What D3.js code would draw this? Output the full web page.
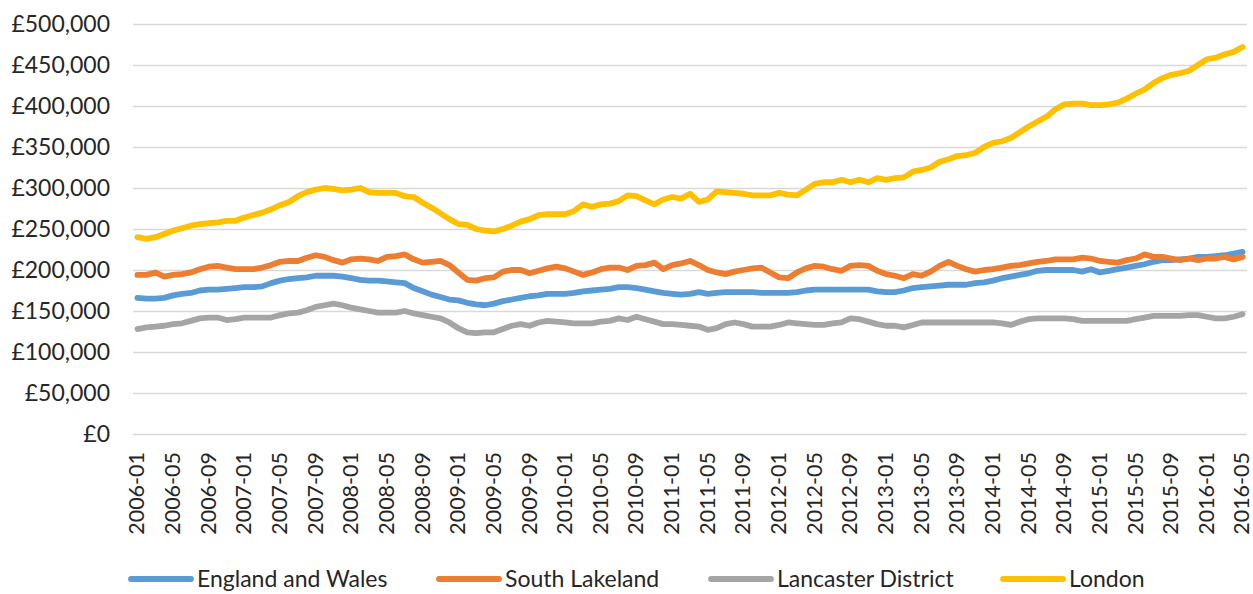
<!DOCTYPE html>
<html>
<head>
<meta charset="utf-8">
<script src="https://cdn.jsdelivr.net/npm/d3@7"></script>
<style>
  body { margin: 0; background: #fff; }
  svg { display: block; font-family: Lato, "Open Sans", sans-serif; }
  .grid line { stroke: #d9d9d9; stroke-width: 1.3; }
  .series { fill: none; stroke-width: 5.8; stroke-linejoin: round; stroke-linecap: round; }
  .tick text { fill: #262626; }
</style>
</head>
<body>
<script>
// monthly categories 2006-01 .. 2016-05
var months = d3.timeMonths(new Date(2006, 0, 1), new Date(2016, 5, 1)).map(d3.timeFormat("%Y-%m"));

// average price, thousands of pounds
var englandWales = [166,165,165,166,169,171,172,175,176,176,177,178,179,179,180,184,187,189,190,191,
  193,193,193,192,190,188,187,187,186,185,184,178,174,170,167,164,163,160,158,157,
  159,162,164,166,168,169,171,171,171,172,174,175,176,177,179,179,178,176,174,172,
  171,170,171,173,171,172,173,173,173,173,172,172,172,172,173,175,176,176,176,176,
  176,176,176,174,173,173,175,178,179,180,181,182,182,182,184,185,187,190,192,194,
  196,199,200,200,200,200,198,201,197,199,201,203,205,207,210,212,212,213,214,216,
  216,217,218,220,222];

var southLakeland = [194,194,197,192,194,195,197,201,204,205,203,201,201,201,203,206,210,211,211,215,
  218,216,212,209,213,214,213,211,216,217,219,213,209,210,211,206,197,188,187,190,
  191,198,200,200,196,199,202,204,202,198,194,197,201,203,203,200,205,206,209,201,
  206,208,211,206,200,197,195,198,200,202,203,197,191,190,197,202,205,204,201,199,
  205,206,205,199,195,193,190,195,193,198,205,210,205,201,198,200,201,203,205,206,
  208,210,211,213,213,213,215,214,211,210,209,212,214,219,216,216,214,212,214,212,
  214,214,216,213,216];

var lancaster = [128,130,131,132,134,135,138,141,142,142,139,140,142,142,142,142,145,147,148,151,
  155,157,159,157,154,152,150,148,148,148,150,147,145,143,141,136,129,124,123,124,
  124,128,132,134,132,136,138,137,136,135,135,135,137,138,141,139,143,140,137,134,
  134,133,132,131,127,129,134,136,134,131,131,131,133,136,135,134,133,133,135,136,
  141,140,137,134,132,132,130,133,136,136,136,136,136,136,136,136,136,135,133,137,
  140,141,141,141,141,140,138,138,138,138,138,138,140,142,144,144,144,144,145,145,
  143,141,141,143,146];

var london = [240,238,240,244,248,251,254,256,257,258,260,260,264,267,270,274,279,283,290,295,
  298,300,299,297,298,300,295,294,294,294,290,289,282,276,269,262,256,255,250,248,
  247,250,254,259,262,267,268,268,268,272,280,277,280,281,284,291,290,285,280,286,
  289,287,293,283,286,296,295,294,293,291,291,291,294,292,291,298,305,307,307,310,
  307,310,307,312,310,312,313,320,322,325,332,335,339,340,343,350,355,357,361,368,
  375,381,387,396,402,403,403,401,401,402,404,409,415,420,428,434,438,440,443,450,
  457,459,463,466,472];

var seriesNames = ["England and Wales", "South Lakeland", "Lancaster District", "London"];
var seriesColors = ["#5b9bd5", "#ed7d31", "#a5a5a5", "#ffc000"];
var yTicks = [0, 50000, 100000, 150000, 200000, 250000, 300000, 350000, 400000, 450000, 500000];

var W = 1253, H = 594;
var plot = {left: 133, right: 1247, top: 24, bottom: 434};

var svg = d3.select("body").append("svg")
    .attr("width", W)
    .attr("height", H);

var x = d3.scalePoint().domain(months).range([plot.left, plot.right]).padding(0.5);
var y = d3.scaleLinear().domain([0, 500000]).range([plot.bottom, plot.top]);

// gridlines
svg.append("g")
    .attr("class", "grid")
    .attr("transform", "translate(" + plot.left + ",0)")
    .call(d3.axisLeft(y).tickValues(yTicks).tickSize(-(plot.right - plot.left)).tickFormat(""))
    .call(function(g) { g.select(".domain").remove(); });

// y axis labels
var fmt = d3.format(",");
svg.append("g")
    .attr("transform", "translate(" + 110 + ",0)")
    .call(d3.axisLeft(y).tickValues(yTicks).tickSize(0).tickPadding(0)
      .tickFormat(function(d) { return "£" + fmt(d); }))
    .call(function(g) { g.select(".domain").remove(); })
    .selectAll("text")
      .attr("font-size", 23)
      .attr("font-family", "Lato, 'Open Sans', sans-serif");

// x axis labels, every 4th month
svg.append("g")
    .attr("transform", "translate(0," + 452 + ")")
    .call(d3.axisBottom(x).tickValues(months.filter(function(d, i) { return i % 4 === 0; })).tickSize(0))
    .call(function(g) { g.select(".domain").remove(); })
    .selectAll("text")
      .attr("font-size", 21.5)
      .attr("font-family", "Lato, 'Open Sans', sans-serif")
      .attr("text-anchor", "end")
      .attr("transform", "rotate(-90)")
      .attr("x", 0)
      .attr("y", 0)
      .attr("dy", "0.3em");

// lines
var allSeries = [englandWales, southLakeland, lancaster, london];
var line = d3.line()
    .x(function(d, i) { return x(months[i]); })
    .y(function(d) { return y(d * 1000); });

allSeries.forEach(function(s, k) {
  svg.append("path")
      .datum(s)
      .attr("class", "series")
      .attr("stroke", seriesColors[k])
      .attr("d", line);
});

// legend
var legendX = [131, 439, 711, 1003];
var legend = svg.append("g").attr("transform", "translate(0,579)");
seriesNames.forEach(function(name, k) {
  legend.append("line")
      .attr("x1", legendX[k]).attr("x2", legendX[k] + 60)
      .attr("y1", 0).attr("y2", 0)
      .attr("stroke", seriesColors[k])
      .attr("stroke-width", 5.8)
      .attr("stroke-linecap", "round");
  legend.append("text")
      .attr("x", legendX[k] + 66)
      .attr("y", 0)
      .attr("dy", "0.35em")
      .attr("font-size", 23)
      .attr("fill", "#262626")
      .text(name);
});
</script>
</body>
</html>
